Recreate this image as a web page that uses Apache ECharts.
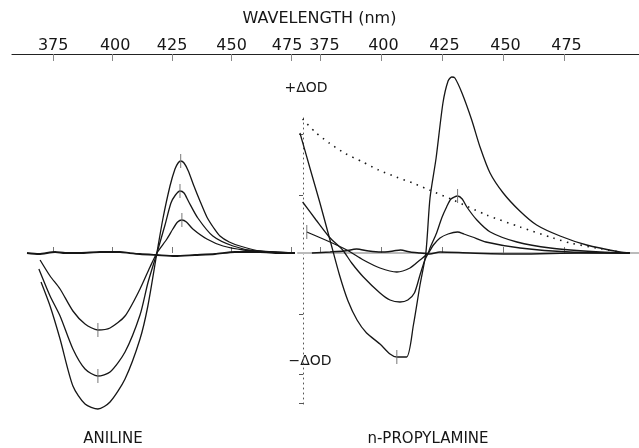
<!DOCTYPE html>
<html>
<head>
<meta charset="utf-8">
<script src="https://cdn.jsdelivr.net/npm/echarts@6/dist/echarts.min.js"></script>
<style>
html, body { margin: 0; padding: 0; background: #fff; }
#chart { width: 639px; height: 448px; }
</style>
</head>
<body>
<div id="chart"></div>
<script>
// wavelength ticks (nm) and the little marks on the ΔOD scale
var tickNm = [375, 400, 425, 450, 475]
var odTicks = [119, 58, -61, -121, -150]

// ANILINE difference spectra, [nm, ΔOD (arbitrary units)]
var anilineLow = [[369.5,-7],[373.7,-23],[377.9,-36],[383.3,-58],[388.4,-71],[393.8,-77],[398.9,-75],[405.2,-63],[411.5,-36],[415.7,-14],[418.6,0],[422.8,14],[425.3,24],[427.3,31],[429.1,33],[431,31],[433.7,24],[439.6,14],[446.4,7],[455,3],[465,1],[476.6,0]]
var anilineMid = [[369.0,-16],[373.7,-43],[377.9,-63],[383.3,-96],[388.4,-116],[393.8,-123],[398.9,-119],[405.2,-99],[411.5,-62],[414.8,-30],[418.6,0],[422,28],[424.5,50],[426.4,58],[428.3,62],[430,60],[431.8,52],[435.8,35],[442.1,17],[450.6,7],[460,2],[476.6,0]]
var anilineHigh = [[369.9,-29],[373.7,-53],[377.9,-86],[383.3,-133],[388.4,-151],[393.8,-156],[398.9,-149],[405.2,-126],[411.5,-86],[414.8,-53],[418.6,0],[421.1,34],[424.1,67],[426.2,84],[427.5,90],[428.6,92],[430,90],[431.8,82],[434,68],[436.7,52],[439.6,36],[442.5,25],[445.1,17],[449,11],[453.5,7],[462,2],[476.6,0]]
var anilineFlat = [[364,0],[369,-1],[375.8,1],[380,0],[386.3,0],[394.7,1],[403.1,1],[407,0],[411.5,-1],[418.6,-2],[426.2,-3],[434.6,-2],[443,-1],[451.4,1],[461.9,1],[470,0],[476.6,0]]

// n-PROPYLAMINE difference spectra
var propylBig = [[366.8,120],[371,84],[375,50],[379,14],[383,-22],[386.5,-48],[390.2,-67],[394.1,-80],[399.6,-91],[403.7,-101],[406.5,-104],[410.5,-104],[413.3,-72],[416.0,-32],[418.4,0],[420.1,55],[422.6,95],[425.4,150],[427.5,172],[429.0,176],[430.3,175],[433.2,160],[437.2,133],[440.6,106],[444.7,80],[450.1,60],[456.9,42],[463.8,28],[473.4,17],[484.3,8],[498,1],[502,0]]
var propylMid = [[367.9,51],[373.4,33],[378.8,16],[384.3,3],[388,-10],[392.8,-24],[399.6,-40],[403.7,-47],[407.8,-49],[411,-47],[413.7,-40],[416,-22],[418,-7],[419.4,0],[420.1,5],[422.8,20],[424.9,35],[426.9,46],[428.7,54],[431.4,57],[433.3,54],[435.2,46],[439.3,33],[444.8,21],[455.7,11],[469.4,5],[489.8,1],[502,0]]
var propylSmall = [[369.6,21],[379.1,11],[386.0,3],[392.8,-7],[399.6,-15],[406.5,-19],[411.9,-15],[416.0,-7],[419.4,0],[421.5,8],[424.2,15],[427.5,19],[431.4,21],[434,19],[437.5,16],[443,11],[457,5],[477.5,1],[502,0]]
var propylFlat = [[371.7,0],[379.1,1],[385,2],[390,4],[395,2],[400,1],[405,2],[408,3],[412,1],[416,0],[420,-1],[424.2,1],[436.5,0],[457,-1],[481.6,0],[502,0]]
var propylDotted = [[367.9,134],[373,121],[378.8,110],[385,100],[392.5,91],[399,83],[406.2,76],[413,70],[419.8,63],[429.6,53],[443.3,38],[457,26],[470.6,15],[477.5,10],[488.4,5],[498,1]]

var font = 'DejaVu Sans'
var ink = '#161616'

function curve(data, xi, yi, width, opts) {
  opts = opts || {}
  var s = {
    type: 'line',
    xAxisIndex: xi,
    yAxisIndex: yi,
    data: data,
    showSymbol: false,
    smooth: 0.25,
    clip: false,
    silent: true,
    lineStyle: {
      color: ink,
      width: opts.dotted ? 1.6 : width,
      type: opts.dotted ? [1.5, 5.5] : 'solid'
    }
  }
  // the recorder's small timing marks across the extremes
  if (opts.marks) {
    s.markPoint = {
      silent: true,
      symbol: 'rect',
      symbolSize: [1, 14],
      itemStyle: { color: '#777' },
      label: { show: false },
      data: opts.marks.map(function (t) { return { type: t } })
    }
  }
  return s
}

function topAxis(grid, min, max, shift) {
  return {
    type: 'value', gridIndex: grid, position: 'top', offset: 64,
    min: min, max: max,
    axisLine: { show: true, onZero: false, lineStyle: { color: '#222', width: 1.2 } },
    axisTick: { show: true, inside: true, length: 7, customValues: tickNm, lineStyle: { color: '#888' } },
    axisLabel: {
      show: true, customValues: tickNm, margin: 0, color: ink, fontSize: 16, fontFamily: font,
      formatter: function (v) { return '{' + (shift[v] || 'n') + '|' + v + '}' },
      rich: {
        n: { fontSize: 16, fontFamily: font, color: ink },
        l: { fontSize: 16, fontFamily: font, color: ink, padding: [0, 8, 0, 0] },
        r: { fontSize: 16, fontFamily: font, color: ink, padding: [0, 0, 0, 5] },
        rr: { fontSize: 16, fontFamily: font, color: ink, padding: [0, 0, 0, 9] }
      }
    },
    splitLine: { show: false }
  }
}

function zeroAxis(grid, min, max, showLine) {
  return {
    type: 'value', gridIndex: grid, position: 'bottom',
    min: min, max: max,
    axisLine: { show: showLine, onZero: true, lineStyle: { color: '#bbb', width: 2 } },
    axisTick: { show: true, inside: true, length: 6, customValues: tickNm, lineStyle: { color: '#777' } },
    axisLabel: { show: false },
    splitLine: { show: false }
  }
}

var chart = echarts.init(document.getElementById('chart'))
chart.setOption({
  backgroundColor: '#fff',
  animation: false,
  grid: [
    { left: 12, top: 118, width: 286, height: 286 },
    { left: 298, top: 118, width: 341, height: 286 }
  ],
  xAxis: [
    topAxis(0, 357.7, 477.9, { 400: 'r', 475: 'l' }),
    zeroAxis(0, 357.7, 477.9, false),
    topAxis(1, 366, 505.75, { 375: 'rr', 400: 'r', 425: 'r', 450: 'r', 475: 'r' }),
    zeroAxis(1, 366, 505.75, true)
  ],
  yAxis: [
    { type: 'value', gridIndex: 0, min: -151, max: 135, show: false },
    {
      type: 'value', gridIndex: 1, min: -151, max: 135, position: 'left', offset: -5,
      axisLine: { show: true, onZero: false, lineStyle: { color: '#555', type: [1, 4] } },
      axisTick: { show: true, length: 4, customValues: odTicks, lineStyle: { color: '#555' } },
      axisLabel: { show: false },
      splitLine: { show: false }
    }
  ],
  graphic: [
    { type: 'text', left: 'center', top: 11, style: { text: 'WAVELENGTH (nm)', font: '16px "DejaVu Sans"', fill: ink } },
    { type: 'text', x: 306, y: 88, style: { text: '+ΔOD', font: '14px "DejaVu Sans"', fill: ink, align: 'center', verticalAlign: 'middle' } },
    { type: 'text', x: 310, y: 361, style: { text: '−ΔOD', font: '14px "DejaVu Sans"', fill: ink, align: 'center', verticalAlign: 'middle' } },
    { type: 'text', x: 113, y: 439, style: { text: 'ANILINE', font: '15px "DejaVu Sans"', fill: ink, align: 'center', verticalAlign: 'middle' } },
    { type: 'text', x: 428, y: 439, style: { text: 'n-PROPYLAMINE', font: '15px "DejaVu Sans"', fill: ink, align: 'center', verticalAlign: 'middle' } }
  ],
  series: [
    curve(anilineFlat, 0, 0, 1.8),
    curve(anilineLow, 0, 0, 1.3, { marks: ['min', 'max'] }),
    curve(anilineMid, 0, 0, 1.3, { marks: ['min', 'max'] }),
    curve(anilineHigh, 0, 0, 1.3, { marks: ['min', 'max'] }),
    curve(propylFlat, 2, 1, 1.5),
    curve(propylSmall, 2, 1, 1.3, { marks: ['max'] }),
    curve(propylMid, 2, 1, 1.3, { marks: ['max'] }),
    curve(propylBig, 2, 1, 1.3, { marks: ['min', 'max'] }),
    curve(propylDotted, 2, 1, 1.3, { dotted: true })
  ]
})
</script>
</body>
</html>
